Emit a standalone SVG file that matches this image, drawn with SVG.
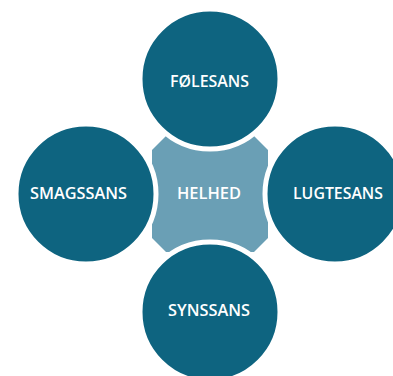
<svg xmlns="http://www.w3.org/2000/svg" width="393" height="376" viewBox="0 0 393 376">
<style>
.c{fill:#0e6480;stroke:#ffffff;stroke-width:5}
.t{fill:#ffffff;font-family:"Open Sans","Liberation Sans",sans-serif;font-weight:600;font-size:16px;text-anchor:middle;dominant-baseline:central}
</style>
<rect width="393" height="376" fill="#ffffff"/>
<g id="helhed">
<polygon points="166,136 254,136 268,150 268,238 254,252 166,252 152,238 152,150" fill="#6a9fb5"/>
</g>
<g id="connectors"></g>
<g id="folesans"><circle class="c" cx="210" cy="79" r="70"/><text class="t" x="209.5" y="81" textLength="79" lengthAdjust="spacingAndGlyphs">FØLESANS</text></g>
<g id="smagssans"><circle class="c" cx="86" cy="194" r="70"/><text class="t" x="78.5" y="193" textLength="97" lengthAdjust="spacingAndGlyphs">SMAGSSANS</text></g>
<g id="lugtesans"><circle class="c" cx="335" cy="194" r="70"/><text class="t" x="338" y="193" textLength="90" lengthAdjust="spacingAndGlyphs">LUGTESANS</text></g>
<g id="synssans"><circle class="c" cx="210" cy="312" r="70"/><text class="t" x="209" y="310" textLength="82" lengthAdjust="spacingAndGlyphs">SYNSSANS</text></g>
<g id="helhed-label"><text class="t" x="209" y="193" textLength="64" lengthAdjust="spacingAndGlyphs">HELHED</text></g>
</svg>
